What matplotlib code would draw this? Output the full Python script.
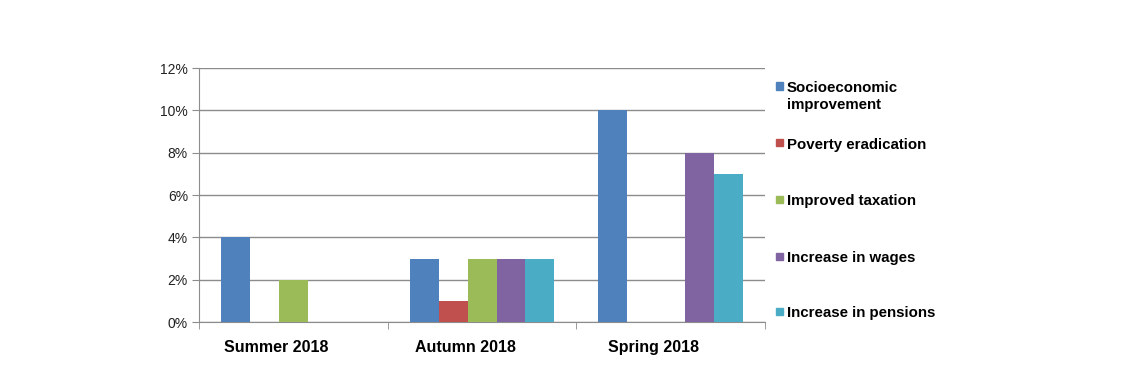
import matplotlib
matplotlib.use("Agg")
import matplotlib.pyplot as plt
from matplotlib.patches import Rectangle
from matplotlib.ticker import FuncFormatter

categories = ["Summer 2018", "Autumn 2018", "Spring 2018"]
series = ["Socioeconomic\nimprovement", "Poverty eradication",
          "Improved taxation", "Increase in wages", "Increase in pensions"]
values = [
    [4, 3, 10],
    [0, 1, 0],
    [2, 3, 0],
    [0, 3, 8],
    [0, 3, 7],
]
colors = ["#4F81BD", "#C0504D", "#9BBB59", "#8064A2", "#4BACC6"]
y_ticks = [0, 2, 4, 6, 8, 10, 12]


def main():
    plt.rcParams["font.family"] = ["Liberation Sans", "DejaVu Sans"]
    fig = plt.figure(figsize=(11.4, 3.66), dpi=100)
    ax = fig.add_axes([0.1746, 0.1202, 0.4965, 0.694])

    bar_w = 0.1534
    n = len(series)
    for k, (vals, col) in enumerate(zip(values, colors)):
        xs = [i + (k - (n - 1) / 2) * bar_w for i in range(len(categories))]
        ax.bar(xs, vals, width=bar_w, color=col, linewidth=0, zorder=3)

    ax.set_xlim(-0.5, len(categories) - 0.5)
    ax.set_ylim(0, 12)
    ax.set_yticks(y_ticks)
    ax.yaxis.set_major_formatter(FuncFormatter(lambda v, _: f"{v:.0f}%"))
    ax.grid(axis="y", color="#8c8c8c", linewidth=1, zorder=0)

    ax.set_xticks([i - 0.09 for i in range(len(categories))])
    ax.set_xticklabels(categories, fontsize=11.5, fontweight="bold")
    ax.set_xticks([i - 0.5 for i in range(len(categories) + 1)], minor=True)
    ax.tick_params(axis="x", which="major", length=0, pad=13)
    ax.tick_params(axis="x", which="minor", length=5, color="#8c8c8c")
    ax.tick_params(axis="y", length=5, color="#8c8c8c", labelsize=10,
                   pad=3, labelcolor="#222222")

    for side in ["top", "right"]:
        ax.spines[side].set_visible(False)
    for side in ["left", "bottom"]:
        ax.spines[side].set_color("#8c8c8c")

    # legend drawn by hand so the marker sits on the first text line
    leg_y = [86, 143, 199, 256, 311]
    for name, col, yp in zip(series, colors, leg_y):
        yf = 1 - yp / 366
        fig.patches.append(Rectangle((776 / 1140, yf - 3.5 / 366), 7 / 1140,
                                     7 / 366, transform=fig.transFigure,
                                     color=col))
        fig.text(787 / 1140, yf + 5 / 366, name, fontsize=10.8,
                 fontweight="bold", va="top", ha="left", linespacing=1.3)

    fig.savefig("out.png", dpi=100)


if __name__ == "__main__":
    main()
